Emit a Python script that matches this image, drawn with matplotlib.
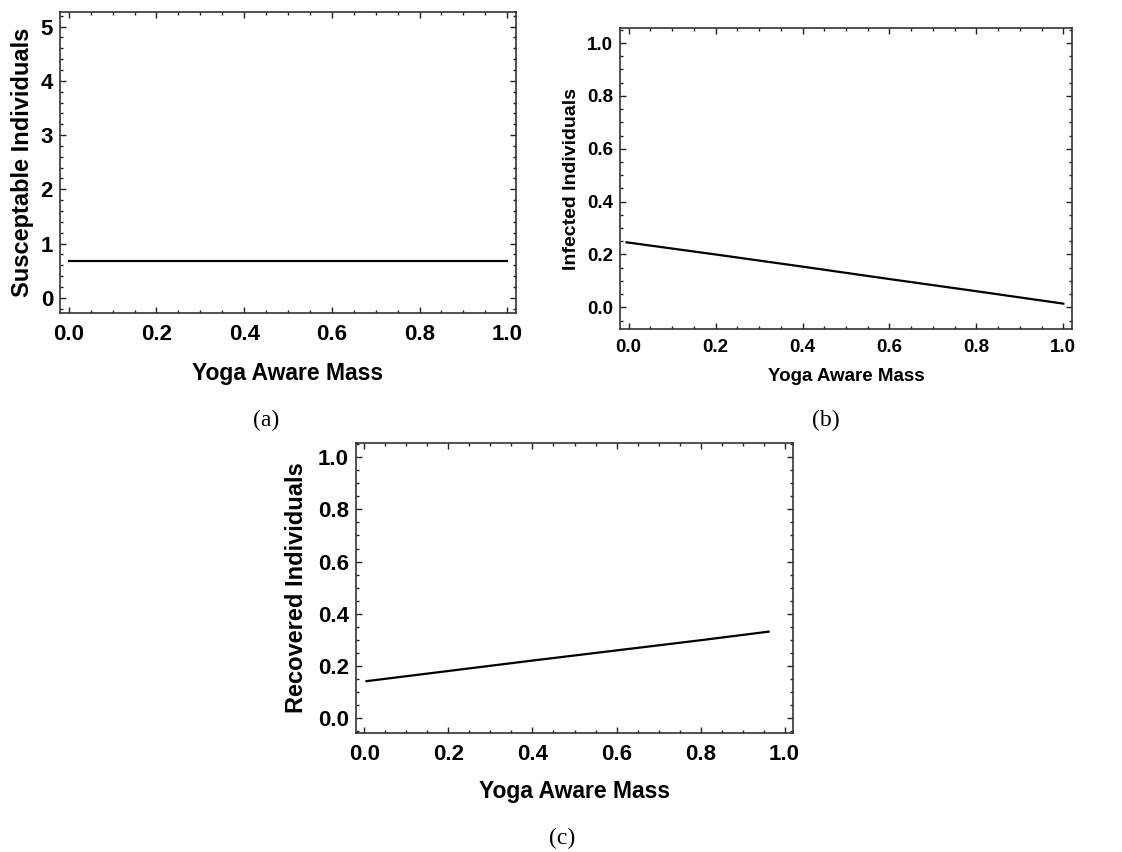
import numpy as np
import matplotlib
matplotlib.use("Agg")
import matplotlib.pyplot as plt
from matplotlib.ticker import MultipleLocator

# values
mass_s = [0.0, 1.0]
susceptible = [0.68, 0.68]

mass_i = [-0.005, 0.2, 0.4, 0.6, 0.8, 1.0]
infected = [0.246, 0.200, 0.154, 0.107, 0.061, 0.014]

mass_r = [0.005, 0.2, 0.4, 0.6, 0.8, 0.962]
recovered = [0.141, 0.180, 0.220, 0.259, 0.298, 0.331]

x_ticks = [0.0, 0.2, 0.4, 0.6, 0.8, 1.0]

plt.rcParams['font.family'] = ['Liberation Sans', 'DejaVu Sans']
plt.rcParams['font.weight'] = 'bold'

fig = plt.figure(figsize=(11.22, 8.52), dpi=100)
W, H = 1122, 852


def make_ax(l, r, t, b):
    return fig.add_axes([l / W, 1 - b / H, (r - l) / W, (b - t) / H])


def style(ax, fs, ymaj, ymin, xpad):
    ax.xaxis.set_major_locator(MultipleLocator(0.2))
    ax.xaxis.set_minor_locator(MultipleLocator(0.05))
    ax.yaxis.set_major_locator(MultipleLocator(ymaj))
    ax.yaxis.set_minor_locator(MultipleLocator(ymin))
    ax.tick_params(which='both', direction='in', top=True, right=True,
                   labelsize=fs, width=1, color='#222222')
    ax.tick_params(which='major', length=4)
    ax.tick_params(which='minor', length=2.5)
    ax.tick_params(axis='x', which='major', pad=xpad)
    ax.tick_params(axis='y', which='major', pad=5)
    for s in ax.spines.values():
        s.set_color('#333333')
        s.set_linewidth(1.2)
    ax.xaxis.set_major_formatter(plt.FuncFormatter(lambda v, p: f"{v:.1f}"))


# (a)
ax1 = make_ax(60, 516, 12, 313)
ax1.plot(mass_s, susceptible, color='black', lw=1.6)
ax1.set_xlim(-0.02, 1.02)
ax1.set_ylim(-0.28, 5.27)
style(ax1, 16, 1, 0.2, 8)
ax1.set_xticks(x_ticks)
ax1.set_xlabel("Yoga Aware Mass", fontsize=16.5, fontweight='bold', labelpad=12)
ax1.set_ylabel("Susceptable Individuals", fontsize=17, fontweight='bold', labelpad=5)

# (b)
ax2 = make_ax(620, 1072, 28, 329)
ax2.plot(mass_i, infected, color='black', lw=1.6)
ax2.set_xlim(-0.02, 1.02)
ax2.set_ylim(-0.082, 1.057)
style(ax2, 13.5, 0.2, 0.05, 7)
ax2.yaxis.set_major_formatter(plt.FuncFormatter(lambda v, p: f"{v:.1f}"))
ax2.set_xlabel("Yoga Aware Mass", fontsize=13.5, fontweight='bold', labelpad=9)
ax2.set_ylabel("Infected Individuals", fontsize=14, fontweight='bold', labelpad=5)

# (c)
ax3 = make_ax(356, 793, 443, 733)
ax3.plot(mass_r, recovered, color='black', lw=1.6)
ax3.set_xlim(-0.02, 1.02)
ax3.set_ylim(-0.058, 1.055)
style(ax3, 16, 0.2, 0.05, 8)
ax3.yaxis.set_major_formatter(plt.FuncFormatter(lambda v, p: f"{v:.1f}"))
ax3.set_xlabel("Yoga Aware Mass", fontsize=16.5, fontweight='bold', labelpad=11)
ax3.set_ylabel("Recovered Individuals", fontsize=17, fontweight='bold', labelpad=7)

# captions
for label, x, y in [("(a)", 266, 420), ("(b)", 826, 420), ("(c)", 562, 838)]:
    fig.text(x / W, 1 - y / H, label, ha='center', va='center',
             fontsize=17, fontweight='normal', family='Liberation Serif')

fig.savefig("out.png", dpi=100)
